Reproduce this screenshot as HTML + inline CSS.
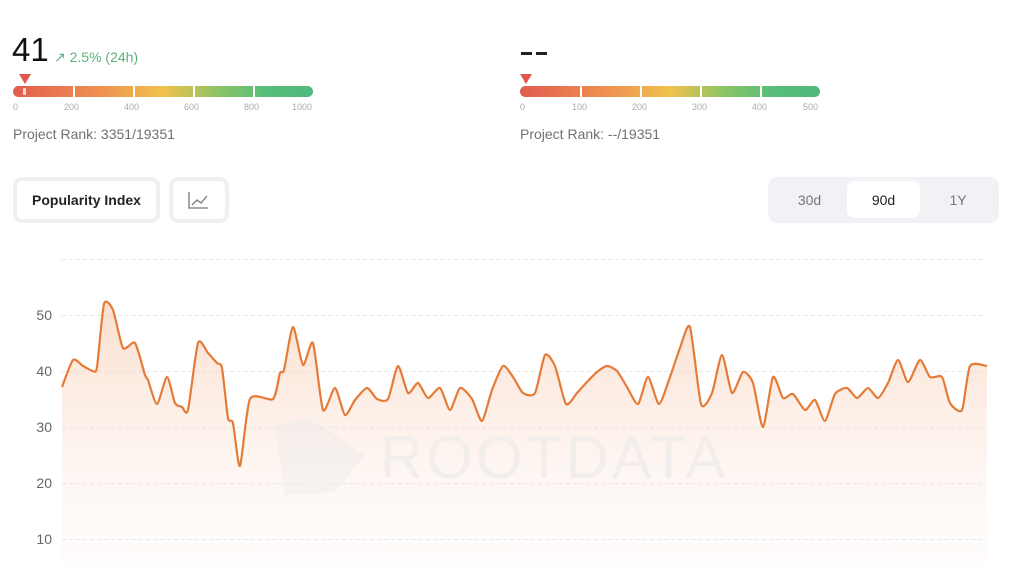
<!DOCTYPE html>
<html><head><meta charset="utf-8"><style>
*{margin:0;padding:0;box-sizing:border-box}
body{width:1018px;height:586px;background:#fff;font-family:"Liberation Sans",sans-serif;position:relative;overflow:hidden}
.a{position:absolute}
.bar{position:absolute;height:11px;border-radius:6px;background:linear-gradient(90deg,#e25c4f 0%,#ee9350 30%,#f1c24e 50%,#8cc465 68%,#55be7a 85%,#52b87c 100%)}
.sep{position:absolute;top:0;width:1.5px;height:11px;background:#fff}
.tk{position:absolute;font-size:9px;color:#a8abb0;top:102px}
.rank{position:absolute;top:126px;font-size:14px;color:#6e7178}
.tri{position:absolute;width:0;height:0;border-left:6px solid transparent;border-right:6px solid transparent;border-top:10px solid #e2574c;top:74px}
</style></head><body>
<div class="a" style="left:12px;top:31px;font-size:33px;color:#111">41</div>
<div class="a" style="left:54px;top:49px;font-size:14px;color:#5bb37a">&#8599; 2.5% (24h)</div>
<div class="tri" style="left:19px"></div>
<div class="bar" style="left:13px;top:86px;width:300px"><div class="sep" style="left:60px"></div><div class="sep" style="left:120px"></div><div class="sep" style="left:180px"></div><div class="sep" style="left:240px"></div><div style="position:absolute;left:10px;top:2px;width:3px;height:7px;background:#fbd6d2;border-radius:1px"></div></div>
<div class="tk" style="left:13px">0</div><div class="tk" style="left:64px">200</div><div class="tk" style="left:124px">400</div><div class="tk" style="left:184px">600</div><div class="tk" style="left:244px">800</div><div class="tk" style="left:292px">1000</div>
<div class="rank" style="left:13px">Project Rank: 3351/19351</div>

<div class="a" style="left:521px;top:52px;width:11px;height:3px;background:#222"></div>
<div class="a" style="left:536px;top:52px;width:11px;height:3px;background:#222"></div>
<div class="tri" style="left:520px"></div>
<div class="bar" style="left:520px;top:86px;width:300px"><div class="sep" style="left:60px"></div><div class="sep" style="left:120px"></div><div class="sep" style="left:180px"></div><div class="sep" style="left:240px"></div></div>
<div class="tk" style="left:520px">0</div><div class="tk" style="left:572px">100</div><div class="tk" style="left:632px">200</div><div class="tk" style="left:692px">300</div><div class="tk" style="left:752px">400</div><div class="tk" style="left:803px">500</div>
<div class="rank" style="left:520px">Project Rank: --/19351</div>

<div class="a" style="left:13px;top:177px;width:147px;height:46px;border:4px solid #eef0f3;border-radius:9px;font-size:14px;font-weight:bold;color:#222;text-align:center;line-height:38px">Popularity Index</div>
<div class="a" style="left:169px;top:177px;width:60px;height:46px;border:4px solid #eef0f3;border-radius:9px">
<svg width="52" height="38" style="position:absolute;left:0;top:0"><polyline points="16,11 16,27 35,27" fill="none" stroke="#777" stroke-width="1.3"/><polyline points="19,24 24,19 28,22 34,15" fill="none" stroke="#777" stroke-width="1.3"/></svg></div>
<div class="a" style="left:768px;top:177px;width:231px;height:46px;background:#f0f2f5;border-radius:9px"></div>
<div class="a" style="left:847px;top:181px;width:73px;height:37px;background:#fff;border-radius:8px"></div>
<div class="a" style="left:768px;top:192px;width:83px;text-align:center;font-size:14px;color:#777">30d</div>
<div class="a" style="left:847px;top:192px;width:73px;text-align:center;font-size:14px;color:#222">90d</div>
<div class="a" style="left:918px;top:192px;width:80px;text-align:center;font-size:14px;color:#777">1Y</div>

<svg class="a" style="left:0;top:0" width="1018" height="586">
<defs><linearGradient id="g" x1="0" y1="0" x2="0" y2="1"><stop offset="0" stop-color="#f7c9ad" stop-opacity="0.6"/><stop offset="1" stop-color="#fdf1ea" stop-opacity="0.15"/></linearGradient></defs>
<g stroke="#e6e8eb" stroke-dasharray="4,3" stroke-width="1">
<line x1="62" y1="259.5" x2="987" y2="259.5"/><line x1="62" y1="315.5" x2="987" y2="315.5"/><line x1="62" y1="371.5" x2="987" y2="371.5"/><line x1="62" y1="427.5" x2="987" y2="427.5"/><line x1="62" y1="483.5" x2="987" y2="483.5"/><line x1="62" y1="539.5" x2="987" y2="539.5"/></g>
<g font-size="14" fill="#666" text-anchor="end"><text x="52" y="320">50</text><text x="52" y="376">40</text><text x="52" y="432">30</text><text x="52" y="488">20</text><text x="52" y="544">10</text></g>
<path id="area" fill="url(#g)"/>
<path d="M275 425 L310 418 L365 455 L335 492 L285 495 Z" fill="#e8e8e8" opacity="0.35"/>
<text x="380" y="478" font-size="60" fill="#ececec" opacity="0.7" letter-spacing="3">ROOTDATA</text>
<path id="ln" fill="none" stroke="#e57b37" stroke-width="2.2"/>
</svg>
<script>
var p=[[62,387],[73,360],[83,366],[93,371],[97,367],[104,304],[113,310],[123,348],[135,343],[145,375],[148,380],[157,404],[167,377],[175,403],[182,407],[188,410],[198,343],[208,353],[217,363],[222,368],[228,418],[233,423],[240,466],[250,399],[273,399],[280,373],[284,370],[293,327],[303,365],[313,343],[323,410],[335,388],[345,415],[355,400],[367,388],[377,399],[388,399],[398,366],[408,393],[418,383],[428,398],[440,388],[450,410],[460,388],[472,399],[482,421],[492,390],[503,366],[513,377],[523,393],[535,393],[545,355],[555,366],[566,404],[577,393],[587,382],[597,372],[607,366],[617,371],[627,387],[638,404],[648,377],[659,404],[670,377],[680,348],[690,327],[701,404],[712,393],[722,355],[732,393],[743,372],[753,383],[763,427],[773,377],[783,398],[793,394],[805,410],[815,400],[825,421],[835,394],[847,388],[857,398],[868,388],[878,398],[888,383],[898,360],[908,382],[920,360],[930,377],[942,377],[950,403],[962,410],[970,366],[987,366]];
var d="M"+p[0][0]+" "+p[0][1],k=9;
for(var i=0;i<p.length-1;i++){var a=p[i>0?i-1:0],b=p[i],c=p[i+1],e=p[i+2<p.length?i+2:i+1];
d+=" C"+(b[0]+(c[0]-a[0])/k)+" "+(b[1]+(c[1]-a[1])/k)+" "+(c[0]-(e[0]-b[0])/k)+" "+(c[1]-(e[1]-b[1])/k)+" "+c[0]+" "+c[1];}
document.getElementById("ln").setAttribute("d",d);
document.getElementById("area").setAttribute("d",d+" L987 566 L62 566 Z");
</script>
</body></html>
